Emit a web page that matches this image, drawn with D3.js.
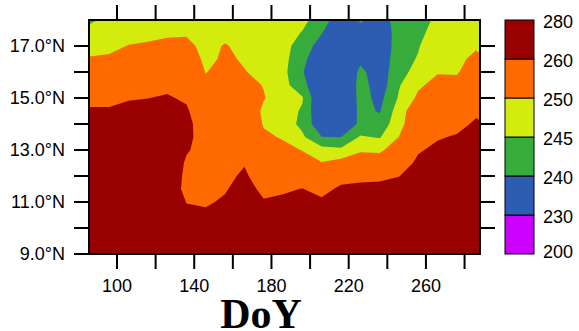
<!DOCTYPE html>
<html>
<head>
<meta charset="utf-8">
<script src="https://cdn.jsdelivr.net/npm/d3@7/dist/d3.min.js"></script>
<style>
  body { margin: 0; background: #fff; }
  text { font-family: "Liberation Sans", Arial, Helvetica, sans-serif; }
</style>
</head>
<body>
<svg id="chart" width="579" height="331"></svg>
<script>
// grid: day of year (columns) x latitude (rows, north to south)
const doy = [86, 96, 106, 116, 126, 136, 146, 156, 166, 176, 186, 196, 206, 216, 226, 236, 246, 256, 266, 276, 286];
const lat = [18, 17.5, 17, 16.5, 16, 15.5, 15, 14.5, 14, 13.5, 13, 12.5, 12, 11.5, 11, 10.5, 10, 9.5, 9];

// values
const temp = [
  [244.4, 246, 246.3, 246.7, 247.3, 247.5, 246.5, 247, 246.8, 246.5, 246.2, 246, 243, 236, 240.5, 238.5, 241.3, 243, 246, 246.5, 247.5],
  [246.4, 247.2, 248.2, 248.6, 249.2, 249.4, 247.5, 248.5, 247.6, 247, 246.5, 244.8, 240.2, 235, 238.5, 237, 241.8, 243.8, 247, 247.5, 248.5],
  [248.3, 248.7, 250.2, 250.7, 251.4, 251.5, 248.3, 250.4, 248.4, 247.7, 246.5, 243, 237.5, 233.5, 237.5, 236, 242.5, 244.7, 248, 248.3, 249.5],
  [250.4, 250.8, 252.5, 253, 253.8, 253.5, 248.8, 250.8, 249.5, 248.3, 246.5, 241.5, 235.5, 232.5, 238.5, 236, 243.3, 245.3, 249, 249, 251],
  [253, 253.4, 254.8, 255.4, 256.1, 255.5, 249.8, 252, 250.2, 248.8, 246.3, 240.4, 234.5, 232, 241.5, 236.5, 244, 246, 249.7, 249.6, 252.5],
  [255.6, 256, 257.1, 257.7, 258.4, 257.5, 251.5, 253, 251.5, 249.8, 246.5, 242, 234, 231, 242.5, 237, 244.6, 249.2, 251.5, 251.3, 254.5],
  [258.2, 258.2, 259.5, 259.9, 260.7, 259, 253, 254, 253, 250.3, 247, 245.4, 234, 232, 242, 238.5, 245.5, 251, 253.5, 253.5, 256.5],
  [260.8, 260.8, 261.8, 262.3, 263, 261, 254, 255, 254.5, 249, 247, 244.5, 234.5, 233, 241.5, 239.6, 247.5, 254, 255.5, 255.7, 258.8],
  [263, 263, 264, 264.5, 265, 262.5, 255, 256, 256, 249.5, 247.5, 243.8, 236, 235.5, 241, 242, 248, 255, 257.5, 258, 261],
  [265, 265, 266, 266.5, 267, 262.5, 255.5, 256.5, 257.5, 251, 249.5, 245.8, 240.1, 239.9, 245.5, 244.6, 250.1, 257, 259.4, 260.6, 263],
  [267, 267, 267.5, 268, 268.5, 261, 256, 257, 258.7, 252.5, 251.5, 249.8, 246.8, 246, 249.4, 249, 253, 259.3, 261.5, 263, 265],
  [268, 268, 268.5, 269, 269.5, 258.5, 256.5, 257.5, 259.6, 254.5, 254, 252.5, 250.3, 252, 253, 253.5, 256, 261.5, 263.5, 265, 266],
  [269, 269, 269.5, 270, 270, 257, 257, 258.5, 261, 256.5, 256.5, 255.5, 254, 257, 258, 258.5, 259.8, 263.5, 265, 266, 267],
  [270, 270, 270, 270, 270, 256, 258, 259.5, 262.5, 258.5, 259, 260.2, 257.5, 261.5, 262, 262, 263, 265, 266, 267, 267],
  [270, 270, 270, 270, 270, 259.7, 259.3, 260.8, 264, 260.5, 261.5, 262.5, 261.5, 264, 264, 264, 265, 266, 267, 267, 267],
  [270, 270, 270, 270, 270, 262.5, 261, 262.5, 265.5, 262.5, 263.5, 264, 263.5, 265.5, 265.5, 265.5, 266, 267, 267, 267, 267],
  [270, 270, 270, 270, 270, 265, 263, 264.5, 266.5, 264.5, 265, 265.5, 265, 266.5, 266.5, 266.5, 267, 267, 267, 267, 267],
  [270, 270, 270, 270, 270, 267, 265, 266, 267, 266, 266.5, 266.5, 266.5, 267, 267, 267, 267, 267, 267, 267, 267],
  [270, 270, 270, 270, 270, 268, 266, 267, 267, 267, 267, 267, 267, 267, 267, 267, 267, 267, 267, 267, 267]
];

const levels = [200, 230, 240, 245, 250, 260, 280];
const colors = ["#cc00ff", "#2c5db2", "#37ab3b", "#d3eb0d", "#ff6a00", "#990000"];

const xTicks = [100, 120, 140, 160, 180, 200, 220, 240, 260, 280];
const xLabels = [100, 140, 180, 220, 260];
const yTicks = [9, 10, 11, 12, 13, 14, 15, 16, 17];
const yLabels = [9, 11, 13, 15, 17];

var plot = { left: 89, right: 480, top: 20, bottom: 254 };
var svg = d3.select("#chart");

var x = d3.scaleLinear().domain([85.5, 288]).range([plot.left, plot.right]);
var y = d3.scaleLinear().domain([9, 18]).range([plot.bottom, plot.top]);

// grid coords from d3.contours -> data coords (samples sit at cell centres)
var gx = d3.scaleLinear().domain([0.5, doy.length - 0.5]).range([doy[0], doy[doy.length - 1]]);
var gy = d3.scaleLinear().domain([0.5, lat.length - 0.5]).range([lat[0], lat[lat.length - 1]]);

var proj = d3.geoTransform({
  point: function (px, py) { this.stream.point(x(gx(px)), y(gy(py))); }
});
var path = d3.geoPath(proj);

svg.append("clipPath").attr("id", "clip")
  .append("rect")
  .attr("x", plot.left).attr("y", plot.top)
  .attr("width", plot.right - plot.left).attr("height", plot.bottom - plot.top);

var contours = d3.contours()
  .size([doy.length, lat.length])
  .thresholds(levels.slice(0, -1))(temp.flat());

svg.append("g")
  .attr("clip-path", "url(#clip)")
  .selectAll("path")
  .data(contours)
  .join("path")
  .attr("d", path)
  .attr("fill", (d, i) => colors[i]);

// frame
svg.append("rect")
  .attr("x", plot.left).attr("y", plot.top)
  .attr("width", plot.right - plot.left).attr("height", plot.bottom - plot.top)
  .attr("fill", "none").attr("stroke", "#000").attr("stroke-width", 2);

// ticks (outward, all four sides)
var tickLen = 15;
var ticks = svg.append("g").attr("stroke", "#000").attr("stroke-width", 2);
xTicks.forEach(t => {
  ticks.append("line").attr("x1", x(t)).attr("x2", x(t)).attr("y1", plot.bottom).attr("y2", plot.bottom + tickLen);
  ticks.append("line").attr("x1", x(t)).attr("x2", x(t)).attr("y1", plot.top).attr("y2", plot.top - tickLen);
});
yTicks.forEach(t => {
  ticks.append("line").attr("x1", plot.left).attr("x2", plot.left - tickLen).attr("y1", y(t)).attr("y2", y(t));
  if (t > 9) ticks.append("line").attr("x1", plot.right).attr("x2", plot.right + tickLen).attr("y1", y(t)).attr("y2", y(t));
});

svg.append("g").selectAll("text")
  .data(xLabels)
  .join("text")
  .attr("x", d => x(d))
  .attr("y", 292)
  .attr("text-anchor", "middle")
  .attr("font-size", "18px")
  .text(d => d);

svg.append("g").selectAll("text")
  .data(yLabels)
  .join("text")
  .attr("x", 65)
  .attr("y", d => y(d))
  .attr("dy", "0.36em")
  .attr("text-anchor", "end")
  .attr("font-size", "18px")
  .text(d => d.toFixed(1) + "°N");

svg.append("text")
  .attr("x", 261)
  .attr("y", 327.5)
  .attr("text-anchor", "middle")
  .style("font-family", '"Liberation Serif", "Times New Roman", serif')
  .attr("font-weight", "bold")
  .attr("font-size", "42px")
  .text("DoY");

// colour bar
var cb = d3.scaleBand().domain(d3.range(colors.length).reverse()).range([plot.top, plot.bottom]);
var bar = svg.append("g");
bar.selectAll("rect")
  .data(d3.range(colors.length))
  .join("rect")
  .attr("x", 505)
  .attr("y", d => cb(d))
  .attr("width", 29)
  .attr("height", cb.bandwidth())
  .attr("fill", d => colors[d])
  .attr("stroke", "#000")
  .attr("stroke-width", 1);

bar.selectAll("text")
  .data(levels)
  .join("text")
  .attr("x", 543)
  .attr("y", (d, i) => i === 0 ? plot.bottom - 2 : cb(i - 1) + 2)
  .attr("dy", "0.36em")
  .attr("font-size", "18px")
  .text(d => d);
</script>
</body>
</html>
